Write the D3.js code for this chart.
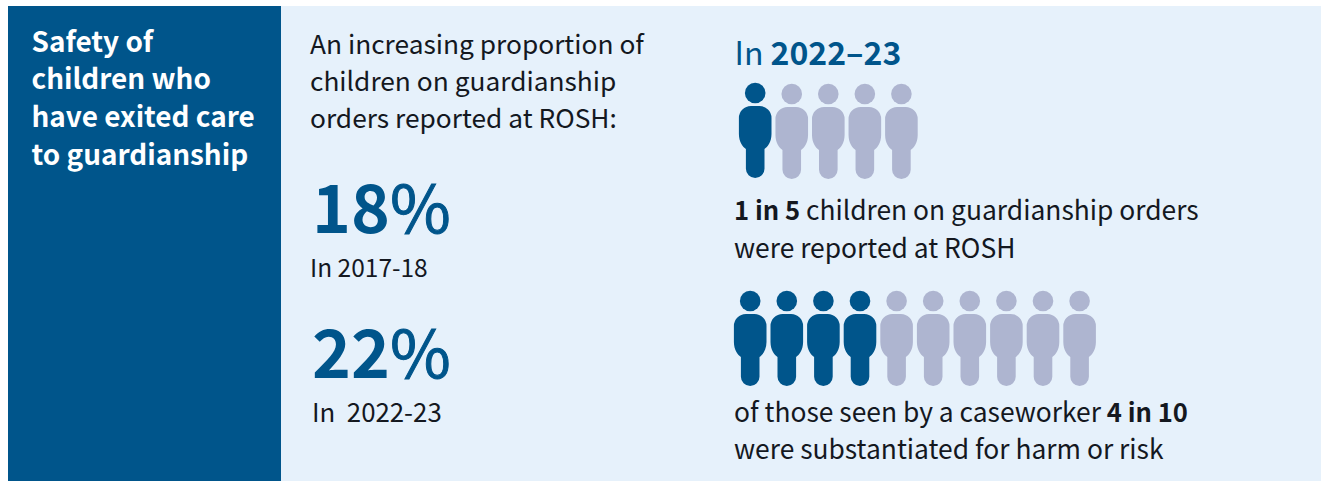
<!DOCTYPE html>
<html>
<head>
<meta charset="utf-8">
<script src="https://cdn.jsdelivr.net/npm/d3@7"></script>
<style>
  html, body { margin: 0; padding: 0; background: #fff; }
  svg { display: block; }
  text { font-family: "Noto Sans CJK SC", "Noto Sans", sans-serif; }
</style>
</head>
<body>
<svg id="chart" width="1329" height="481"></svg>
<script>
// Content of the guardianship safety panel
const titleLines = ["Safety of", "children who", "have exited care", "to guardianship"];
const introLines = ["An increasing proportion of", "children on guardianship", "orders reported at ROSH:"];
const proportions = [18, 22];
const proportionYears = ["In 2017-18", "In\u00a0\u00a02022-23"];

const reportedTotal = 5;
const reportedCount = 1;
const substantiatedTotal = 10;
const substantiatedCount = 4;

const DARK = "#00558b";
const LIGHT = "#e6f1fb";
const MUTED = "#aeb5d0";
const INK = "#14181f";

const svg = d3.select("#chart");

svg.append("rect").attr("x", 281).attr("y", 6).attr("width", 1040).attr("height", 475).attr("fill", LIGHT);
svg.append("rect").attr("x", 8).attr("y", 6).attr("width", 273).attr("height", 475).attr("fill", DARK);

// Heading in the dark column
svg.append("g").selectAll("text").data(titleLines).join("text")
  .attr("x", 31.5).attr("y", (d, i) => 51.5 + i * 37.7)
  .attr("font-size", 27.9).attr("font-weight", 700).attr("fill", "#fff")
  .text(d => d);

// Middle column
svg.append("g").selectAll("text").data(introLines).join("text")
  .attr("x", 310).attr("y", (d, i) => 54 + i * 37.2)
  .attr("font-size", 26.3).attr("fill", INK)
  .text(d => d);

const statY = [232.5, 377.5];
const yearY = [277, 422];
const yearSize = [24.5, 25.8];
const stats = svg.append("g").selectAll("text").data(proportions).join("text")
  .attr("x", 312).attr("y", (d, i) => statY[i])
  .attr("font-size", 66).attr("fill", DARK);
stats.append("tspan").attr("font-weight", 700).text(d => d);
stats.append("tspan").attr("stroke", DARK).attr("stroke-width", 1).text("%");
svg.append("g").selectAll("text").data(proportionYears).join("text")
  .attr("x", (d, i) => i ? 312 : 310).attr("y", (d, i) => yearY[i])
  .attr("font-size", (d, i) => yearSize[i]).attr("fill", INK)
  .text(d => d);

// Right column
const heading = svg.append("text").attr("x", 734.5).attr("y", 65)
  .attr("font-size", 32).attr("fill", DARK);
heading.append("tspan").text("In ");
heading.append("tspan").attr("font-weight", 700).text("2022\u201323");

function rich(x, y, parts) {
  const t = svg.append("text").attr("x", x).attr("y", y).attr("fill", INK);
  parts.forEach(([s, bold]) => t.append("tspan")
    .attr("font-weight", bold ? 700 : 400)
    .attr("font-size", bold ? 25.6 : 26.4)
    .text(s));
}
rich(734, 219.5, [["1 in 5", true], [" children on guardianship orders", false]]);
rich(734, 257.5, [["were reported at ROSH", false]]);
rich(734, 422, [["of those seen by a caseworker ", false], ["4 in 10", true]]);
rich(734, 459, [["were substantiated for harm or risk", false]]);

// One figure, drawn around its own centre line with the head at y = 0
function personBody() {
  const p = d3.path();
  const hw = 16.3, top = 13, shoulder = 12, hip = 55, legW = 9.3, foot = 85;
  p.moveTo(-hw + shoulder, top);
  p.lineTo(hw - shoulder, top);
  p.arcTo(hw, top, hw, top + shoulder, shoulder);
  p.lineTo(hw, hip - 14);
  p.bezierCurveTo(hw, hip - 6, legW + 3, hip - 1, legW, hip + 1);
  p.lineTo(legW, foot - legW);
  p.arc(0, foot - legW, legW, 0, Math.PI);
  p.lineTo(-legW, hip + 1);
  p.bezierCurveTo(-legW - 3, hip - 1, -hw, hip - 6, -hw, hip - 14);
  p.lineTo(-hw, top + shoulder);
  p.arcTo(-hw, top, -hw + shoulder, top, shoulder);
  p.closePath();
  return p.toString();
}

function personRow(total, filled, x0, step, yFilled, yMuted) {
  const x = d3.scaleLinear().domain([0, 1]).range([x0, x0 + step]);
  const row = svg.append("g");
  const people = row.selectAll("g").data(d3.range(total)).join("g")
    .attr("transform", i => `translate(${x(i)},${i < filled ? yFilled : yMuted})`)
    .attr("fill", i => i < filled ? DARK : MUTED);
  people.append("circle").attr("r", 10.3);
  people.append("path").attr("d", personBody());
}

personRow(reportedTotal, reportedCount, 755.2, 36.55, 93, 94);
personRow(substantiatedTotal, substantiatedCount, 750.2, 36.6, 301, 301);
</script>
</body>
</html>
